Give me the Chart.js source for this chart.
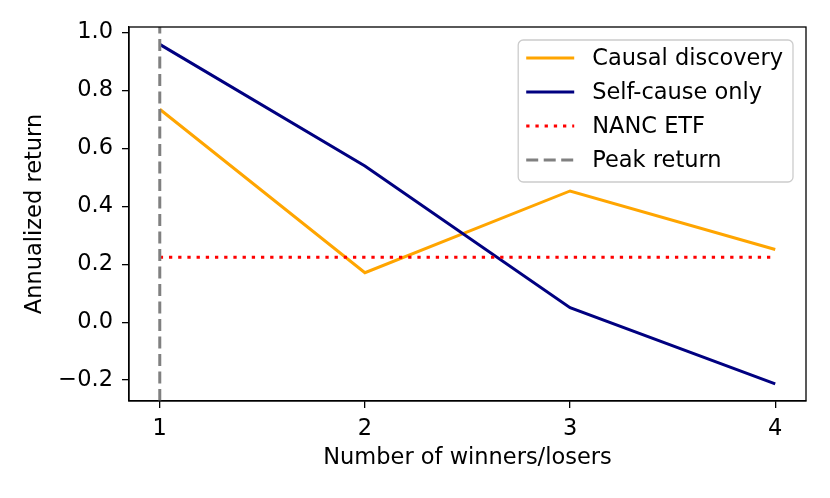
<!DOCTYPE html>
<html>
<head>
<meta charset="utf-8">
<script src="https://cdn.jsdelivr.net/npm/chart.js@4/dist/chart.umd.min.js"></script>
<style>
  html, body { margin: 0; padding: 0; background: #fff; }
  canvas { display: block; }
</style>
</head>
<body>
<canvas id="chart" width="830" height="498"></canvas>
<script>
const winners = [1, 2, 3, 4];
const causalDiscovery = [0.735, 0.171, 0.453, 0.251];
const selfCauseOnly = [0.959, 0.539, 0.050, -0.213];
const nancEtf = [0.224, 0.224, 0.224, 0.224];
const peakWinners = 1;
const xTicks = [1, 2, 3, 4];
const yTicks = [-0.2, 0.0, 0.2, 0.4, 0.6, 0.8, 1.0];
const yMin = -0.272, yMax = 1.019;
const xMin = 0.85, xMax = 4.15;

const FONT = "'DejaVu Sans', sans-serif";
const SIZE = 22.5;

const toPoints = ys => winners.map((x, i) => ({ x: x, y: ys[i] }));

const frameAndLegend = {
  id: "frameAndLegend",
  afterDatasetsDraw(chart) {
    const { ctx, chartArea: a } = chart;
    ctx.save();
    ctx.strokeStyle = "#000";
    ctx.lineWidth = 1.3;
    ctx.strokeRect(a.left, a.top, a.right - a.left, a.bottom - a.top);

    // legend, upper right like matplotlib
    const items = chart.data.datasets.slice().sort((p, q) => p.legendIndex - q.legendIndex);
    ctx.font = SIZE + "px " + FONT;
    const textW = Math.max(...items.map(d => ctx.measureText(d.label).width));
    const rowH = 34;
    const boxW = 8 + 48 + 18 + textW + 10;
    const boxH = 142;
    const bx = a.right - 13 - boxW;
    const by = a.top + 13;
    ctx.beginPath();
    ctx.roundRect(bx, by, boxW, boxH, 5);
    ctx.fillStyle = "rgba(255,255,255,0.8)";
    ctx.fill();
    ctx.strokeStyle = "#cccccc";
    ctx.lineWidth = 1.3;
    ctx.stroke();
    items.forEach((d, i) => {
      const cy = by + 18 + i * rowH;
      ctx.beginPath();
      ctx.setLineDash(d.borderDash || []);
      ctx.strokeStyle = d.borderColor;
      ctx.lineWidth = d.borderWidth;
      ctx.moveTo(bx + 8, cy);
      ctx.lineTo(bx + 56, cy);
      ctx.stroke();
      ctx.setLineDash([]);
      ctx.fillStyle = "#000";
      ctx.textBaseline = "middle";
      ctx.textAlign = "left";
      ctx.fillText(d.label, bx + 74, cy + 1);
    });
    ctx.restore();
  }
};

new Chart(document.getElementById("chart"), {
  type: "line",
  data: {
    datasets: [
      {
        label: "Peak return", legendIndex: 3, order: 0,
        data: [{ x: peakWinners, y: yMin }, { x: peakWinners, y: yMax }],
        borderColor: "#808080", borderWidth: 3, borderDash: [12, 5.5]
      },
      {
        label: "Causal discovery", legendIndex: 0, order: 3,
        data: toPoints(causalDiscovery),
        borderColor: "#FFA500", borderWidth: 3
      },
      {
        label: "Self-cause only", legendIndex: 1, order: 2,
        data: toPoints(selfCauseOnly),
        borderColor: "#000080", borderWidth: 3
      },
      {
        label: "NANC ETF", legendIndex: 2, order: 1,
        data: toPoints(nancEtf),
        borderColor: "#FF0000", borderWidth: 3, borderDash: [3.3, 5.9]
      }
    ]
  },
  options: {
    responsive: false,
    animation: false,
    devicePixelRatio: 1,
    layout: { padding: { top: 27, right: 24, left: 0, bottom: 0 } },
    elements: { point: { radius: 0 }, line: { tension: 0, borderCapStyle: "butt" } },
    plugins: { legend: { display: false }, tooltip: { enabled: false } },
    scales: {
      x: {
        type: "linear", min: xMin, max: xMax,
        afterBuildTicks: s => { s.ticks = xTicks.map(v => ({ value: v })); },
        afterFit: s => { s.height = 97; },
        ticks: { color: "#000", font: { family: FONT, size: SIZE }, padding: 8, callback: v => String(v) },
        grid: { drawOnChartArea: false, drawTicks: true, tickLength: 7, color: "#000", lineWidth: 1.3 },
        border: { color: "#000", width: 1.3 },
        title: { display: true, text: "Number of winners/losers", color: "#000",
                 font: { family: FONT, size: SIZE }, padding: { top: 0, bottom: 26 } }
      },
      y: {
        type: "linear", min: yMin, max: yMax,
        afterBuildTicks: s => { s.ticks = yTicks.map(v => ({ value: v })); },
        afterFit: s => { s.width = 129; },
        ticks: { color: "#000", font: { family: FONT, size: SIZE }, padding: 9,
                 callback: v => v.toFixed(1).replace("-", "\u2212") },
        grid: { drawOnChartArea: false, drawTicks: true, tickLength: 7, color: "#000", lineWidth: 1.3 },
        border: { color: "#000", width: 1.3 },
        title: { display: true, text: "Annualized return", color: "#000",
                 font: { family: FONT, size: SIZE }, padding: { top: 22, bottom: 0 } }
      }
    }
  },
  plugins: [frameAndLegend]
});
</script>
</body>
</html>
